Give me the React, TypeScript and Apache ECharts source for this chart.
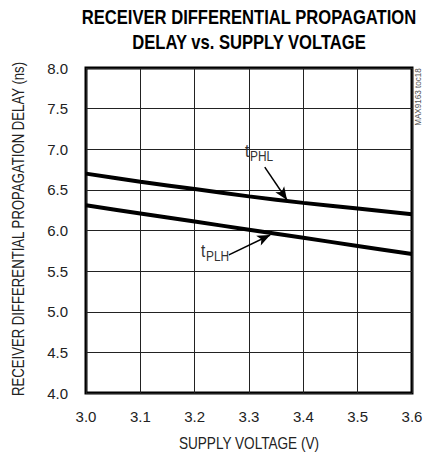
import React, { useEffect, useRef } from "react";
import * as echarts from "echarts";

const voltages = [3.0, 3.1, 3.2, 3.3, 3.4, 3.5, 3.6];
const tPHL = [6.7, 6.6, 6.51, 6.42, 6.34, 6.27, 6.2];
const tPLH = [6.31, 6.21, 6.11, 6.01, 5.91, 5.81, 5.71];
const seriesNames = ["PHL", "PLH"];
const titleLines = ["RECEIVER DIFFERENTIAL PROPAGATION", "DELAY vs. SUPPLY VOLTAGE"];
const xAxisName = "SUPPLY VOLTAGE (V)";
const yAxisName = "RECEIVER DIFFERENTIAL PROPAGATION DELAY (ns)";
const figureTag = "MAX9163 toc18";

const FONT = "'Liberation Sans', Arial, sans-serif";

export default function App() {
  const ref = useRef<HTMLDivElement>(null);
  useEffect(() => {
    if (!ref.current) return;
    const chart = echarts.init(ref.current, null, { renderer: "svg" });
    const toPairs = (ys: number[]) => voltages.map((v, i) => [v, ys[i]]);
    const arrow = (from: number[], to: number[]) => ({
      silent: true,
      symbol: ["none", "arrow"],
      symbolSize: [8, 13],
      label: { show: false },
      lineStyle: { color: "#000", width: 1.5, type: "solid" },
      data: [[{ coord: from }, { coord: to }]],
    });
    chart.setOption({
      animation: false,
      backgroundColor: "#fff",
      grid: { left: 86, right: 22, top: 68, bottom: 61, show: true, borderColor: "#000", borderWidth: 3, outerBoundsMode: "none" },
      xAxis: {
        type: "value", min: 3, max: 3.6, interval: 0.1,
        axisLine: { show: false }, axisTick: { show: false },
        axisLabel: { formatter: (v: number) => v.toFixed(1), fontFamily: FONT, fontSize: 15, color: "#222", margin: 16 },
        splitLine: { show: true, lineStyle: { color: "#222", width: 1 } },
      },
      yAxis: {
        type: "value", min: 4, max: 8, interval: 0.5,
        axisLine: { show: false }, axisTick: { show: false },
        axisLabel: { formatter: (v: number) => v.toFixed(1), fontFamily: FONT, fontSize: 15, color: "#222", margin: 18 },
        splitLine: { show: true, lineStyle: { color: "#222", width: 1 } },
      },
      series: [
        { type: "line", name: seriesNames[0], data: toPairs(tPHL), symbol: "none", smooth: 0.3, lineStyle: { color: "#000", width: 4 }, markLine: arrow([3.329, 6.78], [3.37, 6.375]) },
        { type: "line", name: seriesNames[1], data: toPairs(tPLH), symbol: "none", smooth: 0.3, lineStyle: { color: "#000", width: 4 }, markLine: arrow([3.263, 5.70], [3.339, 5.945]) },
      ],
    });
    const anchors = [[3.2926, 6.868], [3.2117, 5.637]];
    const labels = anchors.map((a, i) => {
      const p = chart.convertToPixel({ gridIndex: 0 }, a) as number[];
      return {
        type: "group", x: p[0], y: p[1],
        children: [
          { type: "text", x: 0, y: 0, scaleX: 0.85, style: { text: "t", fontFamily: FONT, fontSize: 18, fill: "#333", align: "left", verticalAlign: "bottom" } },
          { type: "text", x: 5, y: 3, scaleX: 0.85, style: { text: seriesNames[i], fontFamily: FONT, fontSize: 14, fill: "#333", align: "left", verticalAlign: "bottom" } },
        ],
      };
    });
    chart.setOption({
      graphic: [
        { type: "text", x: 249, y: 17, scaleX: 0.83, style: { text: titleLines[0], fontFamily: FONT, fontWeight: "bold", fontSize: 20, fill: "#000", align: "center", verticalAlign: "middle" } },
        { type: "text", x: 249, y: 42, scaleX: 0.83, style: { text: titleLines[1], fontFamily: FONT, fontWeight: "bold", fontSize: 20, fill: "#000", align: "center", verticalAlign: "middle" } },
        { type: "text", x: 249, y: 444, scaleX: 0.85, style: { text: xAxisName, fontFamily: FONT, fontSize: 16, fill: "#222", align: "center", verticalAlign: "middle" } },
        { type: "text", x: 19, y: 229, rotation: Math.PI / 2, scaleX: 0.823, style: { text: yAxisName, fontFamily: FONT, fontSize: 16, fill: "#222", align: "center", verticalAlign: "middle" } },
        { type: "text", x: 418, y: 97, rotation: Math.PI / 2, scaleX: 0.9, style: { text: figureTag, fontFamily: FONT, fontSize: 9, fill: "#555", align: "center", verticalAlign: "middle" } },
        ...labels,
      ],
    });
    return () => chart.dispose();
  }, []);
  return <div ref={ref} style={{ width: 434, height: 454, position: "absolute", left: 0, top: 0 }} />;
}
